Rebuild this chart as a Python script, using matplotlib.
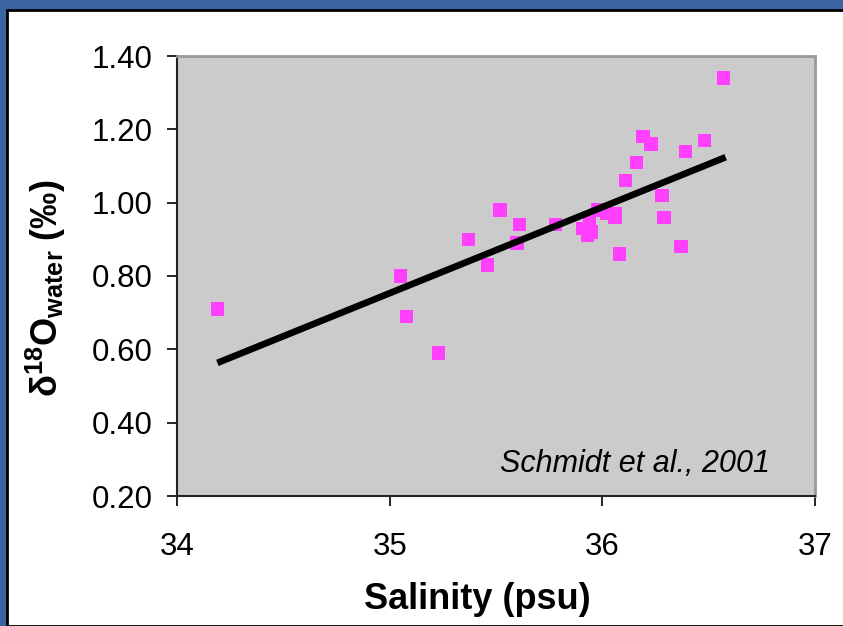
import matplotlib
matplotlib.use("Agg")
import matplotlib.pyplot as plt
from matplotlib.patches import Rectangle

# Data
salinity = [34.19, 35.05, 35.08, 35.23, 35.37, 35.46, 35.52, 35.61, 35.60, 35.78,
            35.91, 35.94, 35.93, 35.95, 35.98, 36.02, 36.06, 36.06, 36.08, 36.11,
            36.16, 36.19, 36.23, 36.28, 36.29, 36.37, 36.39, 36.48, 36.57]
d18o = [0.71, 0.80, 0.69, 0.59, 0.90, 0.83, 0.98, 0.94, 0.89, 0.94,
        0.93, 0.95, 0.91, 0.92, 0.98, 0.97, 0.97, 0.96, 0.86, 1.06,
        1.11, 1.18, 1.16, 1.02, 0.96, 0.88, 1.14, 1.17, 1.34]
trend_x = [34.19, 36.58]
trend_y = [0.563, 1.124]
xticks = [34, 35, 36, 37]
yticks = [0.20, 0.40, 0.60, 0.80, 1.00, 1.20, 1.40]

W, H = 843, 626
fig = plt.figure(figsize=(W / 100, H / 100), dpi=100)
fig.patch.set_facecolor('#3A64A0')
fig.patches.append(Rectangle((7 / W, 0), 1, 1 - 10 / H, transform=fig.transFigure,
                             facecolor='white', edgecolor='black', lw=2, zorder=-10))

ax = fig.add_axes([177 / W, 1 - 496 / H, (815 - 177) / W, (496 - 56) / H])
ax.set_zorder(2)
ax.set_facecolor('#CBCBCB')
ax.scatter(salinity, d18o, marker='s', s=95, color='#FF40FF', edgecolors='none', zorder=3)
ax.plot(trend_x, trend_y, color='black', lw=4.8, solid_capstyle='butt', zorder=4)

ax.set_xlim(34, 37)
ax.set_ylim(0.20, 1.40)
ax.set_xticks(xticks)
ax.set_yticks(yticks)
ax.set_xticklabels([str(v) for v in xticks])
ax.set_yticklabels([f"{v:.2f}" for v in yticks])
ax.tick_params(axis='both', direction='out', length=7.2, width=1.2, colors='black',
               labelsize=22.5)
for lab in ax.get_xticklabels() + ax.get_yticklabels():
    lab.set_family('Liberation Sans')
ax.tick_params(axis='y', pad=10.5)
ax.tick_params(axis='x', pad=19)
for s in ['left', 'bottom']:
    ax.spines[s].set_color('#222222')
    ax.spines[s].set_linewidth(1.5)
for s in ['top', 'right']:
    ax.spines[s].set_color('#999999')
    ax.spines[s].set_linewidth(2)

ax.text(0.929, 0.055, 'Schmidt et al., 2001', transform=ax.transAxes,
        ha='right', va='baseline', fontsize=22, style='italic',
        family='Liberation Sans')

plt.rcParams['mathtext.fontset'] = 'custom'
plt.rcParams['mathtext.rm'] = 'Liberation Sans:bold'
plt.rcParams['mathtext.bf'] = 'Liberation Sans:bold'
plt.rcParams['mathtext.it'] = 'Liberation Sans:bold'

fig.text(477 / W, 1 - 609 / H, 'Salinity (psu)', ha='center', va='baseline',
         fontsize=26, fontweight='bold', family='Liberation Sans')
fig.text(46 / W, 1 - 288 / H, r'$\mathbf{\delta^{18}O_{water}}$ (‰)', ha='center',
         va='center', rotation=90, fontsize=26, fontweight='bold',
         family='Liberation Sans')

fig.savefig('out.png', dpi=100, facecolor=fig.get_facecolor())
